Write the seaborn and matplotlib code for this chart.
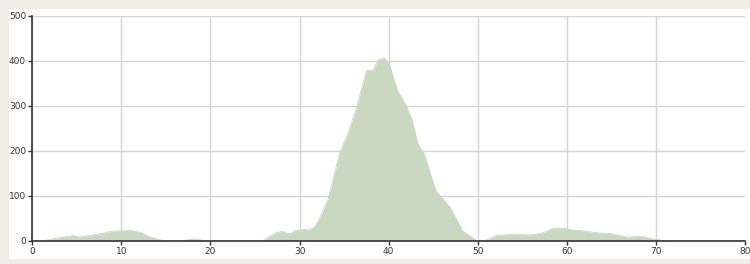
import matplotlib
matplotlib.use("Agg")
import matplotlib.pyplot as plt
from matplotlib.patches import Rectangle
import pandas as pd
import seaborn as sns

# --- datos ---
pos = [0, 1.2, 2.5, 4.2, 4.6, 5.2, 6.5, 7.5, 8.9, 10,
       11, 12, 12.5, 13.2, 14.3, 15, 17, 17.7, 18.3, 19.4,
       25.9, 26.7, 27.4, 28.1, 28.9, 29.4, 30.4, 31.1, 31.7, 32.2,
       33.2, 34.5, 35.4, 36.4, 37.5, 38.2, 38.9, 39.6, 40.1, 41.0,
       41.8, 42.6, 43.3, 44.0, 45.3, 46.9, 48.3, 49.4, 49.9, 50.9,
       51.4, 52.1, 54.0, 55.9, 57.4, 58.5, 59.8, 60.5, 61.8, 63.3,
       65.2, 66.7, 68.5, 69.6, 71.1, 80]
conteo = [0, 0, 5, 10, 12, 8, 12, 15, 21, 22,
          23, 19, 15, 9, 2, 0, 0, 3, 4, 0,
          0, 11, 18, 21, 15, 22, 25, 24, 31, 48,
          92, 196, 237, 296, 378, 378, 403, 405, 390, 333,
          307, 270, 215, 192, 111, 74, 22, 7, 0, 1,
          5, 12, 14, 13, 18, 28, 28, 24, 22, 18,
          15, 8, 10, 4, 0, 0]
x_ticks = [0, 10, 20, 30, 40, 50, 60, 70, 80]
y_ticks = [0, 100, 200, 300, 400, 500]

df = pd.DataFrame({"x": pos, "y": conteo})

sns.set_style("white")
plt.rcParams["font.family"] = ["DejaVu Sans"]

color_area = "#cad8c2"

fig = plt.figure(figsize=(7.5, 2.64), dpi=100)
fig.patch.set_facecolor("#f0ede6")
# panel blanco (detras de los ejes)
fig.patches.append(Rectangle((9 / 750, 1 - 259 / 264), 1, (259 - 8.5) / 264,
                             transform=fig.transFigure, facecolor="white",
                             edgecolor="none", zorder=-5))

ax = fig.add_axes([32.3 / 750, 1 - 240.7 / 264, (745 - 32.3) / 750, (240.7 - 15.7) / 264])
ax.set_facecolor("white")
ax.set_zorder(1)

ax.fill_between(df["x"], df["y"], 0, color=color_area, linewidth=0, zorder=2)
sns.lineplot(data=df, x="x", y="y", ax=ax, color=color_area, linewidth=0.6, zorder=2)

ax.set_xlim(0, 80)
ax.set_ylim(0, 500)
ax.set_xticks(x_ticks)
ax.set_yticks(y_ticks)
ax.set_xlabel("")
ax.set_ylabel("")

ax.grid(True, color="#d4d4d4", linewidth=1, zorder=1)
ax.set_axisbelow(True)
ax.xaxis.get_gridlines()[-1].set_visible(False)

for s in ["top", "right"]:
    ax.spines[s].set_visible(False)
for s in ["left", "bottom"]:
    ax.spines[s].set_color("#333333")
    ax.spines[s].set_linewidth(1.2)

ax.tick_params(axis="both", direction="out", length=3, width=1, color="#333333",
               labelsize=6.5, labelcolor="#333333", pad=1.5, bottom=True, left=True)

plt.savefig("out.png", dpi=100, facecolor=fig.get_facecolor())
